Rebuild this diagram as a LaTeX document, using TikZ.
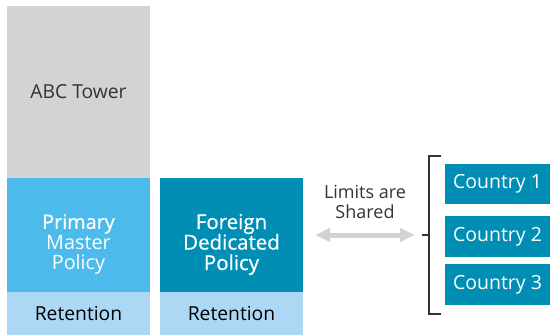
\documentclass[tikz,border=0pt]{standalone}
\usepackage{fontspec}
\setmainfont{Open Sans}
\newfontfamily\semifont[FakeBold=0.6]{Open Sans}
\usetikzlibrary{arrows.meta}
\definecolor{towergray}{HTML}{D1D3D4}
\definecolor{lightblue}{HTML}{4CBAEA}
\definecolor{teal}{HTML}{008EB4}
\definecolor{retblue}{HTML}{ACD8F5}
\definecolor{arrowgray}{HTML}{D1D3D4}
\definecolor{darktext}{HTML}{333333}
\definecolor{bracketgray}{HTML}{333333}
\begin{document}
\begin{tikzpicture}[x=1pt,y=-1pt,
  panel/.style={rectangle, draw=none, inner sep=0pt, outer sep=0pt, anchor=north west, minimum width=143pt},
  lbl/.style={inner sep=0pt, outer sep=0pt, align=center, font=\fontsize{19.8}{20.5}\selectfont},
  ctry/.style={rectangle, fill=teal, inner sep=0pt, outer sep=0pt, anchor=north west, minimum width=105pt, text=white, font=\fontsize{19.5}{20.5}\selectfont},
  brk/.style={draw=bracketgray, line width=1.5pt},
  shared/.style={draw=arrowgray, line width=5pt, {Triangle[length=15pt,width=13pt]}-{Triangle[length=15pt,width=13pt]}}
]
\useasboundingbox (0,0) rectangle (553,335);
% left column
\node[panel, fill=towergray, minimum height=172pt, text=darktext, font=\fontsize{19.3}{20.5}\selectfont] (tower) at (7,6) {ABC Tower};
\node[panel, fill=lightblue, minimum height=114pt] (primary) at (7,178) {};
\node[lbl, text=white] (primarytext) at ([yshift=-9.5pt]primary.center) {{\semifont Primary}\\Master\\Policy};
\node[panel, fill=retblue, minimum height=43pt, text=black, font=\fontsize{19.3}{20.5}\selectfont] (ret1) at (7,292) {Retention};
% second column
\node[panel, fill=teal, minimum height=114pt] (foreign) at (160,178) {};
\node[lbl, text=white, font=\fontsize{20.5}{20.5}\semifont] (foreigntext) at ([yshift=-9.5pt]foreign.center) {Foreign\\Dedicated\\Policy};
\node[panel, fill=retblue, minimum height=43pt, text=black, font=\fontsize{19.3}{20.5}\selectfont] (ret2) at (160,292) {Retention};
% countries
\node[ctry, minimum height=40pt] (c1) at (445,164) {Country 1};
\node[ctry, minimum height=41pt] (c2) at (445,216) {Country 2};
\node[ctry, minimum height=41pt] (c3) at (445,264) {Country 3};
% shared label
\node[lbl, text=darktext, font=\fontsize{18}{20}\selectfont] (limits) at (365,201.5) {Limits are\\Shared};
% bracket
\coordinate (btop) at (441,156);
\coordinate (btopc) at (429,156);
\coordinate (bbotc) at (429,314);
\coordinate (bbot) at (441,314);
\coordinate (bmid) at (429,235);
\coordinate (btick) at (422,235);
\draw[brk] (btop) -- (btopc) -- (bbotc) -- (bbot);
\draw[brk] (btick) -- (bmid);
% arrow
\coordinate (al) at (315,235);
\coordinate (ar) at (415,235);
\draw[shared] (al) -- (ar);
\end{tikzpicture}
\end{document}
